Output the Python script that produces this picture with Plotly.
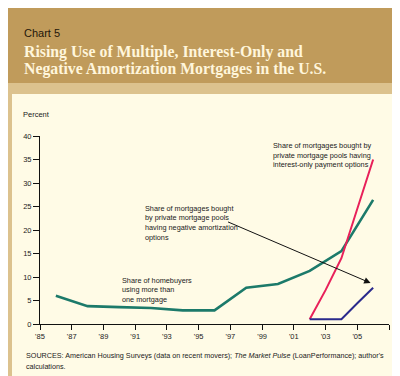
import plotly.graph_objects as go

# ---- data ----
multi_years = [1986, 1988, 1990, 1992, 1994, 1996, 1998, 2000, 2002, 2004, 2006]
multi_share = [6.0, 3.8, 3.6, 3.4, 2.9, 2.9, 7.7, 8.5, 11.3, 15.5, 26.4]

io_years = [2002, 2003, 2004, 2005, 2006]
io_share = [1.0, 7.2, 14.0, 24.5, 35.0]

negam_years = [2002, 2003, 2004, 2005, 2006]
negam_share = [1.0, 1.0, 1.0, 4.4, 7.7]

x_tickvals = [1985, 1987, 1989, 1991, 1993, 1995, 1997, 1999, 2001, 2003, 2005, 2007]
x_ticktext = ["'85", "'87", "'89", "'91", "'93", "'95", "'97", "'99", "'01", "'03", "'05", ""]
y_tickvals = [0, 5, 10, 15, 20, 25, 30, 35, 40]

W, H = 400, 376
ML, MR, MT, MB = 32, 19, 128, 60
PW, PH = W - ML - MR, H - MT - MB

def px(x):
    return (x - ML) / PW

def py(y):
    return (H - MB - y) / PH

SANS = "Liberation Sans, Arial, sans-serif"
SERIF = "Liberation Serif, Times New Roman, serif"

fig = go.Figure()
fig.add_trace(go.Scatter(x=multi_years, y=multi_share, mode="lines",
                         line=dict(color="#1c7a6a", width=2.6), hoverinfo="skip"))
fig.add_trace(go.Scatter(x=io_years, y=io_share, mode="lines",
                         line=dict(color="#e8205a", width=2), hoverinfo="skip"))
fig.add_trace(go.Scatter(x=negam_years, y=negam_share, mode="lines",
                         line=dict(color="#2a2a8c", width=2), hoverinfo="skip"))

shapes = [
    dict(type="rect", xref="paper", yref="paper", x0=px(0), x1=px(W), y0=py(75), y1=py(H),
         fillcolor="#dcc28e", line=dict(width=0), layer="below"),
    dict(type="rect", xref="paper", yref="paper", x0=px(4), x1=px(392), y0=py(86), y1=py(368),
         fillcolor="#fffbe6", line=dict(width=0), layer="below"),
]

txt = dict(family=SANS, size=7.3, color="#1a1a1a")

def block(x, ytop, lines, font=txt, step=9.5):
    out = []
    for i, ln in enumerate(lines):
        out.append(dict(xref="paper", yref="paper", x=px(x), y=py(ytop + i * step),
                        xanchor="left", yanchor="middle", text=ln, showarrow=False, font=font))
    return out

annotations = [
    dict(xref="paper", yref="paper", x=px(14), y=py(25), xanchor="left", yanchor="middle",
         text="Chart 5", showarrow=False, font=dict(family=SANS, size=11, color="#24170a")),
    dict(xref="paper", yref="paper", x=px(14), y=py(44), xanchor="left", yanchor="middle",
         text="<b>Rising Use of Multiple, Interest-Only and</b>", showarrow=False,
         font=dict(family=SERIF, size=15.8, color="#fff6dc")),
    dict(xref="paper", yref="paper", x=px(14), y=py(61), xanchor="left", yanchor="middle",
         text="<b>Negative Amortization Mortgages in the U.S.</b>", showarrow=False,
         font=dict(family=SERIF, size=15.8, color="#fff6dc")),
    dict(xref="paper", yref="paper", x=px(13), y=py(106), xanchor="left", yanchor="middle",
         text="Percent", showarrow=False, font=dict(family=SANS, size=7.5, color="#1a1a1a")),
    dict(x=2005.84, y=8.72, ax=1996.76, ay=21.85, xref="x", yref="y", axref="x", ayref="y",
         showarrow=True, arrowhead=2, arrowsize=1.3, arrowwidth=1, arrowcolor="#111", text=""),
]
annotations += block(263, 137.5, ["Share of mortgages bought by",
                                  "private mortgage pools having",
                                  "interest-only payment options"])
annotations += block(135, 200, ["Share of mortgages bought",
                                "by private mortgage pools",
                                "having negative amortization"])
annotations += block(135, 229, ["options"])
annotations += block(112, 272, ["Share of homebuyers", "using more than", "one mortgage"])
annotations += block(16, 347.3, ["SOURCES: American Housing Surveys (data on recent movers); "
                                 "<i>The Market Pulse</i> (LoanPerformance); author's",
                                 "calculations."],
                     font=dict(family=SANS, size=7.2, color="#1a1a1a"), step=11)

fig.update_layout(
    width=W, height=H,
    margin=dict(l=ML, r=MR, t=MT, b=MB, autoexpand=False),
    paper_bgcolor="#c09b5b", plot_bgcolor="rgba(0,0,0,0)",
    showlegend=False,
    shapes=shapes, annotations=annotations,
    xaxis=dict(range=[1985, 2007], tickvals=x_tickvals, ticktext=x_ticktext,
               showgrid=False, zeroline=False, showline=True, linecolor="#111", linewidth=1,
               ticks="outside", ticklen=5, tickcolor="#111", tickwidth=1,
               tickfont=dict(family=SANS, size=7.5, color="#222")),
    yaxis=dict(range=[0, 40], tickvals=y_tickvals,
               showgrid=False, zeroline=False, showline=True, linecolor="#111", linewidth=1,
               ticks="outside", ticklen=6, tickcolor="#111", tickwidth=1,
               tickfont=dict(family=SANS, size=7.5, color="#222")),
)

fig.write_html("out.html")
